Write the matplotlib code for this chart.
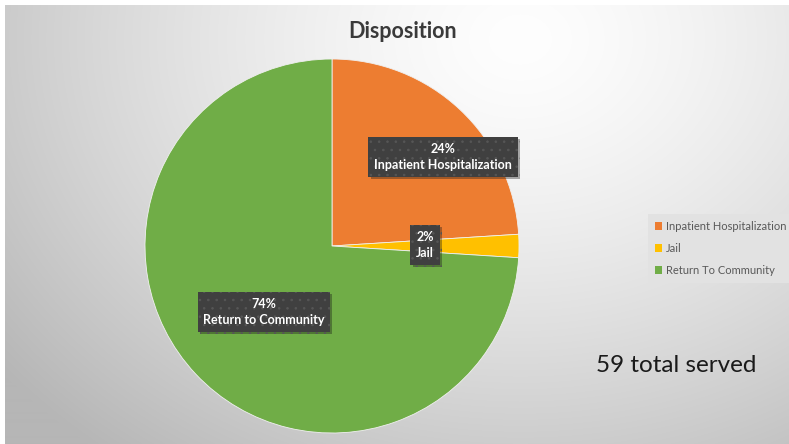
import numpy as np
import matplotlib.pyplot as plt
import matplotlib.patheffects as pe

plt.rcParams['font.family'] = ['Lato', 'DejaVu Sans']
plt.rcParams['hatch.linewidth'] = 0.6

# datos del grafico
categorias = ['Inpatient Hospitalization', 'Jail', 'Return To Community']
etiquetas = ['Inpatient Hospitalization', 'Jail', 'Return to Community']
porcentajes = [24, 2, 74]
colores = ['#ED7D31', '#FFC000', '#70AD47']
titulo = 'Disposition'
nota = '59 total served'

W, H = 789, 444
fig = plt.figure(figsize=(W / 100, H / 100), dpi=100)
fig.patch.set_facecolor('white')
ax = fig.add_axes([0, 0, 1, 1])

# fondo con degradado radial (area del grafico)
x0, x1, ytop = 5, W, 6
xx, yy = np.meshgrid(np.arange(x0, x1), np.arange(ytop, H))
d = np.sqrt((xx - 520) ** 2 + ((yy - 40) / 0.8) ** 2) / 650
v = np.clip(254 - 70 * d ** 1.4, 182, 254) / 255
img = np.dstack([v, v, v])
ax.imshow(img, extent=(x0, x1, 0, H - ytop), origin='upper', zorder=0, aspect='auto')

# pastel
cx, cy, r = 332, H - 246, 187
wedges, _ = ax.pie(porcentajes, colors=colores, startangle=90, counterclock=False,
                   center=(cx, cy), radius=r, frame=True,
                   wedgeprops=dict(linewidth=0.6, edgecolor='#f0f0f0'))
ax.set_xlim(0, W)
ax.set_ylim(0, H)
ax.axis('off')
for w in wedges:
    w.set_zorder(2)

# etiquetas de datos
pos_etiquetas = [(443, 157), (425, 245), (264, 312)]
for p, nombre, (px, py) in zip(porcentajes, etiquetas, pos_etiquetas):
    t = ax.text(px, H - py, f'{p}%\n{nombre}', ha='center', va='center',
                color='white', fontsize=9, fontweight='bold', linespacing=1.4, zorder=4,
                bbox=dict(boxstyle='square,pad=0.45', facecolor='#404040',
                          edgecolor='#565656', hatch='..', linewidth=0))
    t.get_bbox_patch().set_path_effects([pe.withSimplePatchShadow(offset=(1.5, -1.5), alpha=0.35)])

# titulo
ax.text(403, H - 32, titulo, ha='center', va='center', fontsize=15.5,
        fontweight='bold', color='#3a3a3a', zorder=3)

# leyenda
leg = fig.legend(wedges, categorias, loc='upper left',
                 bbox_to_anchor=(648 / W, 1 - 214 / H), borderaxespad=0,
                 frameon=True, fancybox=False, framealpha=1, facecolor='#e2e2e2',
                 edgecolor='none', fontsize=8, handlelength=0.7, handleheight=0.7,
                 handletextpad=0.3, labelspacing=1.0, borderpad=0.6,
                 labelcolor='#595959')
for h in leg.legend_handles:
    h.set_linewidth(0)

# total atendidos
ax.text(676, H - 365, nota, ha='center', va='center', fontsize=17.5,
        color='#1a1a1a', zorder=3)

fig.savefig('out.png', dpi=100, facecolor=fig.get_facecolor())
